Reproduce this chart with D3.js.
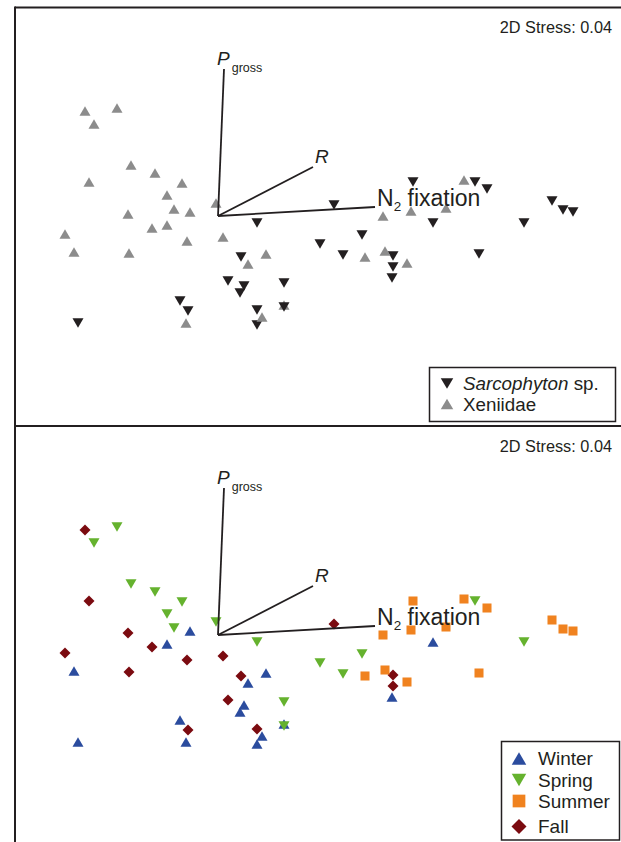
<!DOCTYPE html>
<html><head><meta charset="utf-8">
<script src="https://cdn.jsdelivr.net/npm/d3@7"></script>
<style>
html,body{margin:0;padding:0;background:#fff;}
svg{display:block;font-family:"Liberation Sans",Arial,Helvetica,sans-serif;}
</style></head>
<body>
<svg id="chart" width="621" height="842"></svg>
<script>
// ---- data (NMDS coordinates, drawing order) ----
const nmds1 = [-1.33,-1.01,-1.24,-0.87,-0.63,-1.29,-0.36,-0.51,-0.02,-0.90,-0.44,-0.28,-0.66,-0.51,-1.53,-0.31,0.05,-1.44,-0.89,0.48,0.30,
  0.39,0.23,0.10,0.26,0.22,0.66,0.66,-0.38,-0.30,0.39,0.39,-1.40,
  0.44,-0.32,
  1.95,2.57,2.69,1.16,2.15,3.06,3.34,3.45,3.55,1.44,1.02,1.25,1.75,1.75,1.74,2.61,
  2.46,1.65,1.93,2.28,1.47,1.67,1.89];
const nmds2 = [1.05,1.08,0.92,0.51,0.43,0.34,0.33,0.21,0.13,0.02,0.07,0.04,-0.12,-0.09,-0.18,-0.25,-0.21,-0.36,-0.37,-0.38,-0.48,
  -0.07,-0.41,-0.65,-0.70,-0.77,-0.67,-0.91,-0.85,-0.95,-0.94,-1.09,-1.07,
  -1.01,-1.07,
  0.34,0.34,0.27,0.11,-0.07,-0.07,0.15,0.06,0.04,-0.19,-0.28,-0.39,-0.40,-0.51,-0.62,-0.38,
  0.36,0.00,0.05,0.08,-0.41,-0.35,-0.47];
const species = ["X","X","X","X","X","X","X","X","X","X","X","X","X","X","X","X","X","X","X","X","X",
  "S","S","S","S","S","S","S","S","S","S","S","S",
  "X","X",
  "S","S","S","S","S","S","S","S","S","S","S","S","S","S","S","S",
  "X","X","X","X","X","X","X"];
const season = ["Fall","Spring","Spring","Spring","Spring","Fall","Spring","Spring","Spring","Fall","Spring","Winter","Fall","Winter","Fall","Fall","Fall","Winter","Fall","Winter","Winter",
  "Spring","Fall","Fall","Winter","Winter","Spring","Spring","Winter","Fall","Fall","Winter","Winter",
  "Winter","Winter",
  "Summer","Spring","Summer","Fall","Winter","Spring","Summer","Summer","Summer","Spring","Spring","Spring","Fall","Fall","Winter","Summer",
  "Summer","Summer","Summer","Summer","Summer","Summer","Summer"];
// hidden Xeniidae sample under a Sarcophyton point (winter)
const hiddenX = [0.66], hiddenY = [-0.89], hiddenSeason = ["Winter"];

const vectorNames = ["Pgross","R","N2"];
const vectorX = [0.06, 0.95, 1.57];
const vectorY = [1.47, 0.49, 0.09];

const speciesLabels = ["Sarcophyton sp.","Xeniidae"];
const speciesKeys = ["S","X"];
const seasonLabels = ["Winter","Spring","Summer","Fall"];
const stressLabel = "2D Stress: 0.04";

// ---- styles ----
const speciesColor = {S:"#231f20", X:"#8c8c8c"};
const speciesShape = {S:"down", X:"up"};
const seasonColor = {Winter:"#2b4c9e", Spring:"#65b22e", Summer:"#f0821f", Fall:"#7b0b10"};
const seasonShape = {Winter:"up", Spring:"down", Summer:"square", Fall:"diamond"};

function shapePath(kind, s){
  const w = s, h = s*0.85;
  if(kind==="up") return `M${-w/2},${h/2}L${w/2},${h/2}L0,${-h/2}Z`;
  if(kind==="down") return `M${-w/2},${-h/2}L${w/2},${-h/2}L0,${h/2}Z`;
  if(kind==="square"){const q=s*0.41;return `M${-q},${-q}H${q}V${q}H${-q}Z`;}
  const d=s*0.5; return `M0,${-d}L${d},0L0,${d}L${-d},0Z`;
}

const svg = d3.select("#chart");
const W = 621;
const x = d3.scaleLinear().domain([-2.03, 4.03]).range([15, 621]);

// points with hidden point inserted before index 27 (drawn under it)
const pts = [];
nmds1.forEach((v,i)=>{
  if(i===27) pts.push({x:hiddenX[0], y:hiddenY[0], sp:"X", se:hiddenSeason[0]});
  pts.push({x:v, y:nmds2[i], sp:species[i], se:season[i]});
});

function panel(top, mode){
  const y = d3.scaleLinear().domain([-1.5, 2.08]).range([top+358, top]);
  const g = svg.append("g");
  // points
  g.selectAll("path.pt").data(pts).enter().append("path")
    .attr("class","pt")
    .attr("transform", d=>`translate(${x(d.x)},${y(d.y)})`)
    .attr("d", d=> mode==="species" ? shapePath(speciesShape[d.sp], 11) : shapePath(seasonShape[d.se], 11))
    .attr("fill", d=> mode==="species" ? speciesColor[d.sp] : seasonColor[d.se]);
  // vectors
  vectorNames.forEach((n,i)=>{
    g.append("line").attr("x1",x(0)).attr("y1",y(0)).attr("x2",x(vectorX[i])).attr("y2",y(vectorY[i]))
      .attr("stroke","#231f20").attr("stroke-width",1.8);
  });
  // vector labels
  const pl = g.append("text").attr("x", x(vectorX[0])-7).attr("y", y(vectorY[0])-4).attr("font-size",19).attr("fill","#231f20");
  pl.append("tspan").attr("font-style","italic").text("P");
  pl.append("tspan").attr("font-size",12.5).attr("dx",2).attr("dy",7).text("gross");
  g.append("text").attr("x", x(vectorX[1])+2).attr("y", y(vectorY[1])-4).attr("font-size",19)
    .attr("font-style","italic").attr("fill","#231f20").text("R");
  const nl = g.append("text").attr("x", x(vectorX[2])+2).attr("y", y(vectorY[2])-1.5).attr("font-size",23).attr("fill","#231f20");
  nl.append("tspan").text("N");
  nl.append("tspan").attr("font-size",13.5).attr("dy",5).text("2");
  nl.append("tspan").attr("dy",-5).text(" fixation");
  // stress
  g.append("text").attr("x",612).attr("y",top+25).attr("text-anchor","end").attr("font-size",16.3)
    .attr("fill","#231f20").text(stressLabel);
}

panel(8, "species");
panel(427, "season");

// borders
svg.append("line").attr("x1",15).attr("y1",7.5).attr("x2",W).attr("y2",7.5).attr("stroke","#231f20").attr("stroke-width",2);
svg.append("line").attr("x1",15).attr("y1",6.5).attr("x2",15).attr("y2",842).attr("stroke","#231f20").attr("stroke-width",2);
svg.append("line").attr("x1",14).attr("y1",426).attr("x2",W).attr("y2",426).attr("stroke","#231f20").attr("stroke-width",2);

// legend 1
const l1 = svg.append("g");
l1.append("rect").attr("x",429.5).attr("y",367.5).attr("width",186).attr("height",54)
  .attr("fill","#fff").attr("stroke","#231f20").attr("stroke-width",1.5);
speciesKeys.forEach((k,i)=>{
  const cy = 383.5 + i*20.5;
  l1.append("path").attr("transform",`translate(447,${cy})`).attr("d",shapePath(speciesShape[k],12.5)).attr("fill",speciesColor[k]);
  const t = l1.append("text").attr("x",463).attr("y",cy+6.5).attr("font-size",18.8).attr("fill","#231f20");
  if(k==="S"){
    t.append("tspan").attr("font-style","italic").text(speciesLabels[i].split(" ")[0]);
    t.append("tspan").text(" "+speciesLabels[i].split(" ").slice(1).join(" "));
  } else t.text(speciesLabels[i]);
});

// legend 2
const l2 = svg.append("g");
l2.append("rect").attr("x",501.5).attr("y",741.5).attr("width",118).attr("height",98.5)
  .attr("fill","#fff").attr("stroke","#231f20").attr("stroke-width",1.5);
seasonLabels.forEach((s,i)=>{
  const cy = [758.5,780,801,826.5][i];
  l2.append("path").attr("transform",`translate(519,${cy})`).attr("d",shapePath(seasonShape[s],s==="Fall"?15:(s==="Summer"?15.5:14.5))).attr("fill",seasonColor[s]);
  l2.append("text").attr("x",538).attr("y",cy+6.5).attr("font-size",19).attr("fill","#231f20").text(s);
});
</script>
</body></html>
